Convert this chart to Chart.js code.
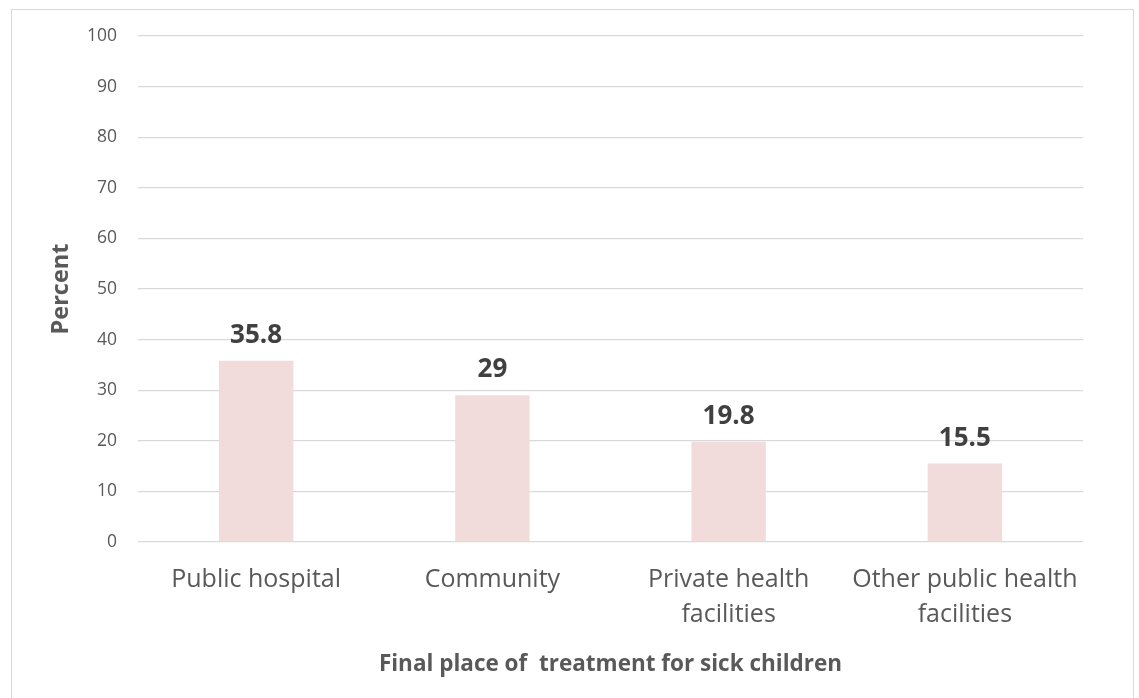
<!DOCTYPE html>
<html>
<head>
<meta charset="utf-8">
<script src="https://cdn.jsdelivr.net/npm/chart.js@4/dist/chart.umd.min.js"></script>
<style>
  html, body { margin: 0; padding: 0; background: #fff; }
  #wrap { position: relative; width: 1139px; height: 698px; overflow: hidden; }
  #frame { position: absolute; left: 11px; top: 9px; width: 1123px; height: 700px;
           border: 1px solid #D9D9D9; box-sizing: border-box; }
  #chart { position: absolute; left: 0; top: 0; }
</style>
</head>
<body>
<div id="wrap">
  <div id="frame"></div>
  <canvas id="chart" width="1139" height="698"></canvas>
</div>
<script>
const categories = [
  "Public hospital",
  "Community",
  ["Private health", "facilities"],
  ["Other public health", "facilities"]
];
const percentValues = [35.8, 29, 19.8, 15.5];
const yTickValues = [0, 10, 20, 30, 40, 50, 60, 70, 80, 90, 100];

const FONT = "'Open Sans', Lato, sans-serif";

// Writes each bar's value just above it
const valueLabels = {
  id: 'valueLabels',
  afterDatasetsDraw(chart) {
    const ctx = chart.ctx;
    const meta = chart.getDatasetMeta(0);
    ctx.save();
    ctx.font = "bold 26px " + FONT;
    ctx.fillStyle = "#404040";
    ctx.textAlign = "center";
    ctx.textBaseline = "alphabetic";
    meta.data.forEach((bar, i) => {
      ctx.fillText(String(chart.data.datasets[0].data[i]), bar.x, bar.y - 18);
    });
    ctx.restore();
  }
};

new Chart(document.getElementById('chart'), {
  type: 'bar',
  data: {
    labels: categories,
    datasets: [{
      data: percentValues,
      backgroundColor: '#F2DCDB',
      borderWidth: 0,
      categoryPercentage: 1,
      barPercentage: 0.315
    }]
  },
  options: {
    responsive: false,
    animation: false,
    devicePixelRatio: 1,
    layout: { padding: { left: 12, right: 56, top: 36, bottom: 0 } },
    plugins: {
      legend: { display: false },
      tooltip: { enabled: false }
    },
    scales: {
      x: {
        grid: { display: false, drawTicks: false },
        border: { display: false },
        ticks: {
          color: '#595959',
          font: { family: FONT, size: 25, lineHeight: 1.4 },
          padding: 20,
          maxRotation: 0,
          autoSkip: false
        },
        title: {
          display: true,
          text: 'Final place of  treatment for sick children',
          color: '#595959',
          font: { family: FONT, size: 22.5, weight: 'bold' },
          padding: { top: 8, bottom: 20 }
        },
        afterFit(scale) { scale.height = 156; }
      },
      y: {
        min: 0,
        max: 100,
        afterBuildTicks(scale) { scale.ticks = yTickValues.map(v => ({ value: v })); },
        grid: { color: '#D9D9D9', lineWidth: 1.3, drawTicks: false },
        border: { display: false },
        ticks: {
          color: '#595959',
          font: { family: FONT, size: 17.5 },
          padding: 21
        },
        title: {
          display: true,
          text: 'Percent',
          color: '#595959',
          font: { family: FONT, size: 23.5, weight: 'bold' },
          padding: { top: 35, bottom: 0 }
        },
        afterFit(scale) { scale.width = 126; }
      }
    }
  },
  plugins: [valueLabels]
});
</script>
</body>
</html>
